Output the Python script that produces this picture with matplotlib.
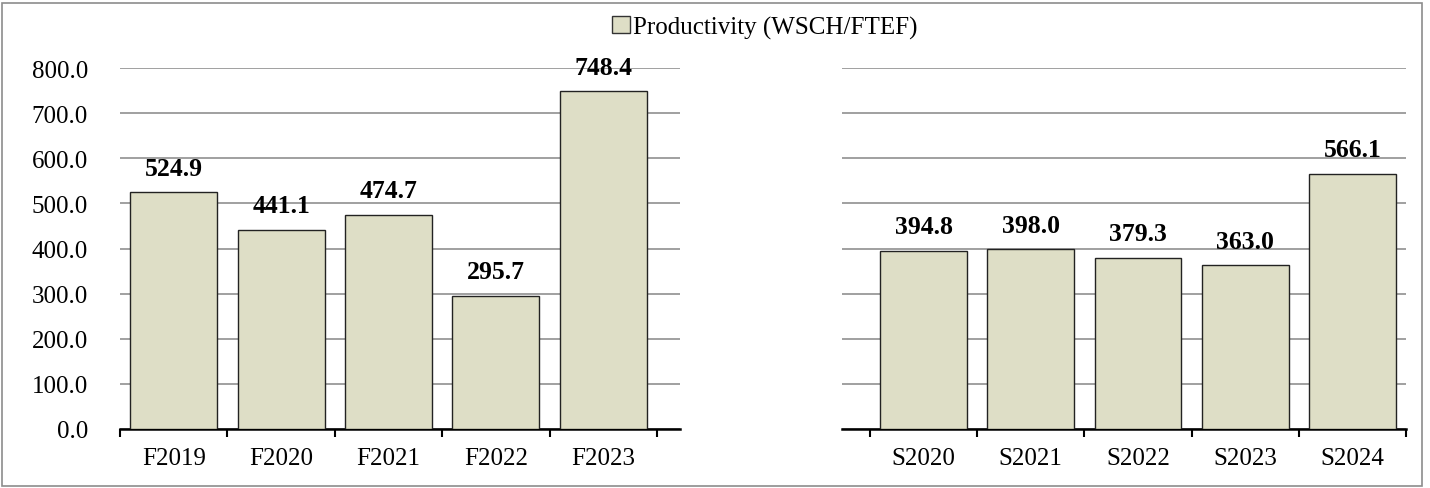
import matplotlib
matplotlib.use('Agg')
import matplotlib.pyplot as plt
from matplotlib.patches import Rectangle, Patch

plt.rcParams['font.family'] = ['Liberation Serif', 'DejaVu Serif']

fall_terms = ['F2019', 'F2020', 'F2021', 'F2022', 'F2023']
fall_values = [524.9, 441.1, 474.7, 295.7, 748.4]
spring_terms = ['S2020', 'S2021', 'S2022', 'S2023', 'S2024']
spring_values = [394.8, 398.0, 379.3, 363.0, 566.1]
y_ticks = [0, 100, 200, 300, 400, 500, 600, 700, 800]
legend_label = 'Productivity (WSCH/FTEF)'

bar_color = '#DEDEC6'
grid_color = '#A0A0A0'

W, H = 1430, 489
fig = plt.figure(figsize=(W / 100, H / 100), dpi=100)


def px(x0, y0, x1, y1):
    # pixel box (top-left origin) -> figure fraction rect
    return [x0 / W, 1 - y1 / H, (x1 - x0) / W, (y1 - y0) / H]


def draw_panel(ax, terms, values, positions, show_y):
    ax.bar(positions, values, width=0.81, color=bar_color,
           edgecolor='#222222', linewidth=1.0, zorder=3)
    for p, v in zip(positions, values):
        ax.annotate(f'{v:.1f}', (p, v), xytext=(0, 9), textcoords='offset points',
                    ha='center', va='bottom', fontsize=18.5, fontweight='bold', zorder=4)
    ax.set_ylim(0, 800)
    ax.set_yticks(y_ticks)
    ax.yaxis.grid(True, color=grid_color, linewidth=1.4, zorder=0)
    ax.set_axisbelow(True)
    if show_y:
        ax.set_yticklabels([f'{t:.1f}' for t in y_ticks], fontsize=18)
    else:
        ax.set_yticklabels([])
    ax.tick_params(axis='y', length=0, pad=23)
    # category boundary ticks
    bounds = [p - 0.5 for p in positions] + [positions[-1] + 0.5]
    ax.set_xticks(bounds)
    ax.set_xticklabels([])
    ax.set_xticks(positions, minor=True)
    ax.set_xticklabels(terms, minor=True, fontsize=18)
    ax.tick_params(axis='x', which='major', direction='out', length=6, width=1.5, color='black')
    ax.tick_params(axis='x', which='minor', length=0, pad=13)
    for s in ['top', 'left', 'right']:
        ax.spines[s].set_visible(False)
    ax.spines['bottom'].set_linewidth(1.8)
    ax.spines['bottom'].set_color('black')


left_pos = list(range(5))
right_pos = list(range(7, 12))

ax1 = fig.add_axes(px(120, 69, 680, 430))
draw_panel(ax1, fall_terms, fall_values, left_pos, True)
ax1.set_xlim(-0.5, 4.5 + 23 / 107.2)

ax2 = fig.add_axes(px(842, 69, 1406, 430))
draw_panel(ax2, spring_terms, spring_values, right_pos, False)
ax2.set_xlim(6.5 - 28 / 107.2, 11.5)

# legend at the top
handle = Patch(facecolor=bar_color, edgecolor='#333333', linewidth=1.0)
fig.legend([handle], [legend_label], loc='center', bbox_to_anchor=(765 / W, 1 - 28 / H),
           frameon=False, fontsize=18, handlelength=0.7, handleheight=0.7,
           handletextpad=0.15, borderpad=0)

# outer border
fig.patches.append(Rectangle((2 / W, 2 / H), 1420 / W, 1 - 6 / H, transform=fig.transFigure,
                             fill=False, edgecolor='#8C8C8C', linewidth=1.2))

fig.savefig('out.png', dpi=100)
